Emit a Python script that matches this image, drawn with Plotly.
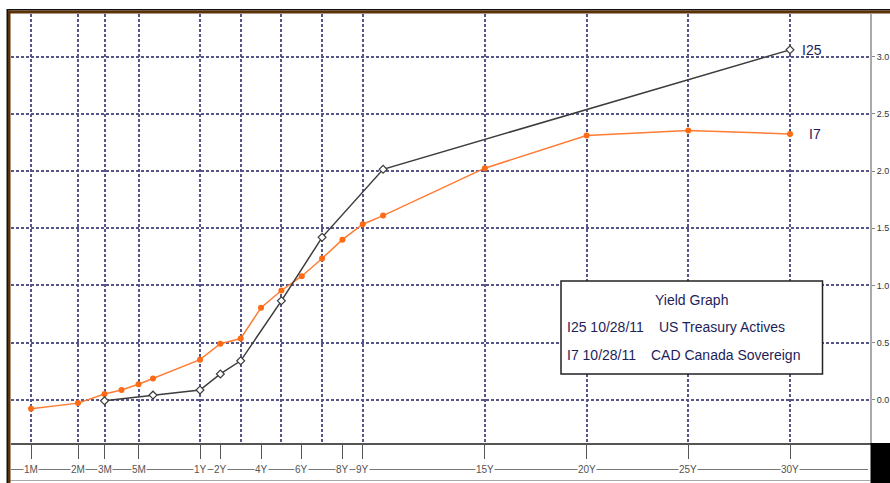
import numpy as np
import plotly.graph_objects as go

# ---------------- data ----------------
axis_labels = ["1M", "2M", "3M", "5M", "1Y", "2Y", "4Y", "6Y", "8Y", "9Y", "15Y", "20Y", "25Y", "30Y"]
axis_label_years = [1/12, 2/12, 3/12, 5/12, 1, 2, 4, 6, 8, 9, 15, 20, 25, 30]
grid_years = [1/12, 2/12, 3/12, 5/12, 1, 3, 5, 7, 9, 15, 20, 25, 30]

cad_tenors = [1/12, 2/12, 3/12, 4/12, 5/12, 6/12, 1, 2, 3, 4, 5, 6, 7, 8, 9, 10, 15, 20, 25, 30]
cad_yields = [-0.08, -0.03, 0.05, 0.085, 0.135, 0.185, 0.35, 0.49, 0.535, 0.805, 0.955,
              1.08, 1.235, 1.40, 1.535, 1.61, 2.025, 2.31, 2.355, 2.325]

us_tenors = [3/12, 6/12, 1, 2, 3, 5, 7, 10, 30]
us_yields = [-0.01, 0.04, 0.085, 0.225, 0.34, 0.865, 1.42, 2.015, 3.06]

y_ticks = [0.0, 0.5, 1.0, 1.5, 2.0, 2.5, 3.0]

legend_title = "Yield Graph"
legend_rows = [("I25 10/28/11", "US Treasury Actives"), ("I7 10/28/11", "CAD Canada Sovereign")]
series_tags = ["I25", "I7"]

# ---------------- axis scale (Bloomberg-style stretched short end) ----------------
SCALE_YEARS = [1/12, 2/12, 3/12, 5/12, 6/12, 1, 30]
SCALE_POS = [31, 78, 104.5, 138.5, 153, 200, 790]


def warp(years):
    return np.interp(np.asarray(years, dtype=float), SCALE_YEARS, SCALE_POS)


# plot area geometry (pixels)
PX0, PX1, PY0, PY1 = 11, 870, 14, 443
W, H = 890, 483


def py(p):  # pixel y -> paper y
    return (PY1 - p) / (PY1 - PY0)


def px(p):  # pixel x -> paper x
    return (p - PX0) / (PX1 - PX0)


NAVY = "#1e1e5a"
GRID = "#55558a"
ORANGE = "#ff6a14"

fig = go.Figure()
fig.add_trace(go.Scatter(
    x=warp(cad_tenors), y=cad_yields, mode="lines+markers",
    line=dict(color="#ff7c35", width=1.5),
    marker=dict(color=ORANGE, size=6, symbol="circle"),
    hoverinfo="skip"))
fig.add_trace(go.Scatter(
    x=warp(us_tenors), y=us_yields, mode="lines+markers",
    line=dict(color="#3c3c3c", width=1.5),
    marker=dict(color="white", size=6, symbol="diamond", line=dict(color="#3c3c3c", width=1.2)),
    hoverinfo="skip"))

fig.update_layout(
    width=W, height=H, showlegend=False,
    margin=dict(l=PX0, r=W - PX1, t=PY0, b=H - PY1, autoexpand=False),
    paper_bgcolor="white", plot_bgcolor="white",
    font=dict(family="Liberation Sans, Arial, sans-serif"),
)
fig.update_xaxes(
    range=[PX0, PX1], tickmode="array", tickvals=list(warp(axis_label_years)),
    showticklabels=False, ticks="outside", ticklen=14, tickcolor="#555", tickwidth=1.2,
    showgrid=False, zeroline=False, showline=True, linecolor="#555", linewidth=1.5,
    minor=dict(tickmode="array", tickvals=list(warp(grid_years)), showgrid=True,
               gridcolor=GRID, griddash="3px,2px", gridwidth=1.5, ticks=""),
    automargin=False,
)
fig.update_yaxes(
    side="right", range=[-(PY1 - 399.7) / 114.3, 3.0 + (56.7 - PY0) / 114.3],
    tickmode="array", tickvals=y_ticks, ticktext=[f"{v:.1f}" for v in y_ticks],
    tickfont=dict(size=9, color="#333"), ticks="outside", ticklen=3, tickcolor="#888",
    showgrid=True, gridcolor=GRID, griddash="3px,2px", gridwidth=1.5,
    zeroline=False, showline=True, linecolor="#aaa", linewidth=2, automargin=False,
)

shapes = []
# label baseline running through the x tick labels
shapes.append(dict(type="line", xref="paper", yref="paper", x0=px(PX0), x1=px(868),
                   y0=py(469.5), y1=py(469.5), line=dict(color="#777", width=1.2)))
# bottom gray line
shapes.append(dict(type="line", xref="paper", yref="paper", x0=px(8), x1=px(870),
                   y0=py(480.5), y1=py(480.5), line=dict(color="#aaa", width=1)))
# frame: top black line + brown band
shapes.append(dict(type="rect", xref="paper", yref="paper", x0=px(7), x1=px(W), y0=py(9), y1=py(10.5),
                   fillcolor="#111", line=dict(width=0)))
shapes.append(dict(type="rect", xref="paper", yref="paper", x0=px(7), x1=px(W), y0=py(10.5), y1=py(13.5),
                   fillcolor="#5a3208", line=dict(width=0)))
# frame: left black line + brown band
shapes.append(dict(type="rect", xref="paper", yref="paper", x0=px(6.5), x1=px(8), y0=py(9), y1=py(H),
                   fillcolor="#111", line=dict(width=0)))
shapes.append(dict(type="rect", xref="paper", yref="paper", x0=px(8), x1=px(10.5), y0=py(10.5), y1=py(H),
                   fillcolor="#5a3208", line=dict(width=0)))
# black block bottom right
shapes.append(dict(type="rect", xref="paper", yref="paper", x0=px(870.5), x1=px(W), y0=py(443), y1=py(H),
                   fillcolor="black", line=dict(width=0)))
# legend box
shapes.append(dict(type="rect", xref="paper", yref="paper", x0=px(561), x1=px(822.5), y0=py(281), y1=py(374),
                   fillcolor="white", line=dict(color="#222", width=1.5), layer="above"))
fig.update_layout(shapes=shapes)

ann = []
for lab, yr in zip(axis_labels, axis_label_years):
    ann.append(dict(x=float(warp(yr)), xref="x", y=py(469.5), yref="paper", text=lab,
                    showarrow=False, bgcolor="white", borderpad=0,
                    font=dict(size=10, color="#555"), xanchor="center", yanchor="middle"))

tfont = dict(size=14, color=NAVY, family="Liberation Sans, Arial, sans-serif")
ann.append(dict(x=px(691.5), xref="paper", y=py(299.5), yref="paper", text=legend_title,
                showarrow=False, font=tfont, xanchor="center", yanchor="middle"))
row_y = [327, 355]
row_x2 = [657, 649]
for (a, b), yy, x2 in zip(legend_rows, row_y, row_x2):
    ann.append(dict(x=px(565), xref="paper", y=py(yy), yref="paper", text=a, showarrow=False,
                    font=tfont, xanchor="left", yanchor="middle"))
    ann.append(dict(x=px(x2), xref="paper", y=py(yy), yref="paper", text=b, showarrow=False,
                    font=tfont, xanchor="left", yanchor="middle"))

ann.append(dict(x=float(warp(us_tenors[-1])), xref="x", y=us_yields[-1], yref="y", text=series_tags[0],
                showarrow=False, xanchor="left", yanchor="middle", xshift=10, font=tfont))
ann.append(dict(x=float(warp(cad_tenors[-1])), xref="x", y=cad_yields[-1], yref="y", text=series_tags[1],
                showarrow=False, xanchor="left", yanchor="middle", xshift=17, font=tfont))
fig.update_layout(annotations=ann)

fig.write_html("out.html", config={"displayModeBar": False},
               post_script="document.body.style.margin='0';document.body.style.overflow='hidden';")
